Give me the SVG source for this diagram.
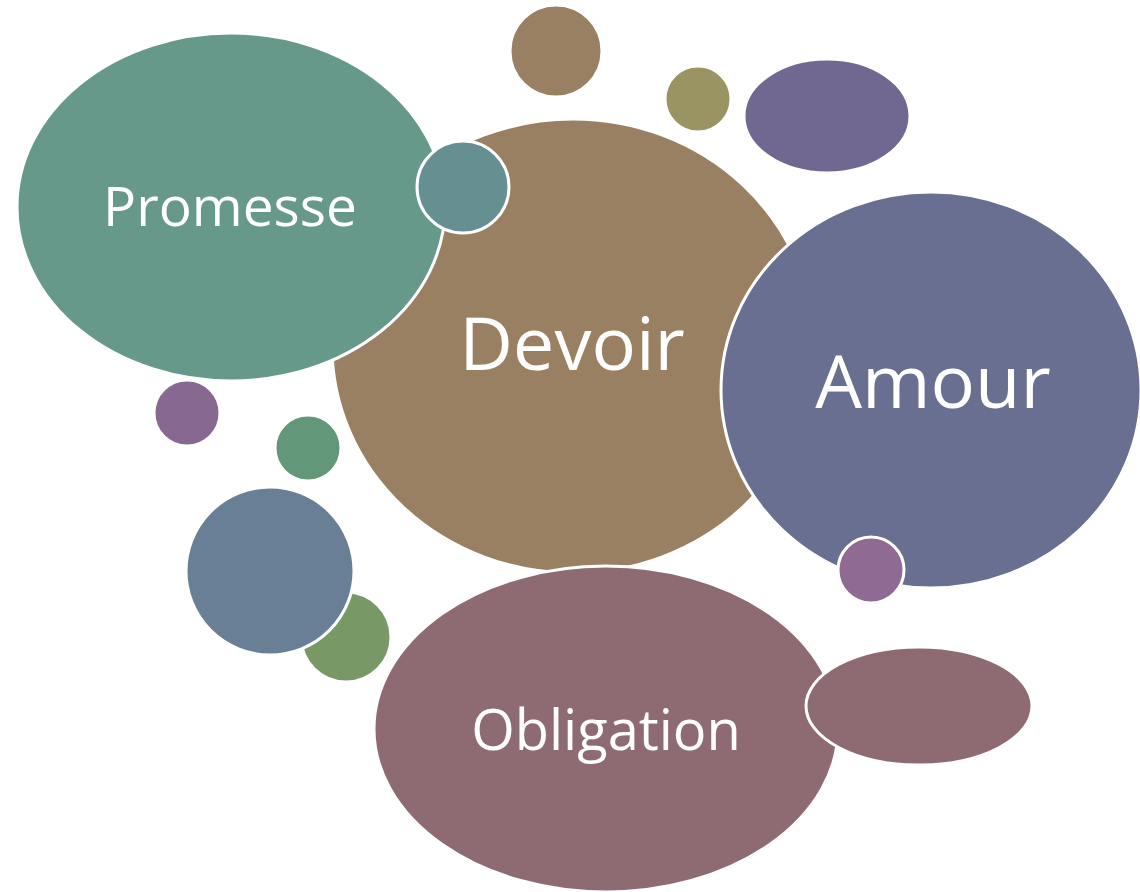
<svg xmlns="http://www.w3.org/2000/svg" width="1140" height="892" viewBox="0 0 1140 892">
<style>
.b{stroke:#fff;stroke-width:3}
.t{fill:#fff;font-family:"Open Sans","Noto Sans",sans-serif;text-anchor:middle}
</style>
<rect width="1140" height="892" fill="#fff"/>
<g id="bubble-top-brown"><circle class="b" cx="556" cy="51" r="46" fill="#9A8062"/></g>
<g id="bubble-olive"><circle class="b" cx="698" cy="99" r="33" fill="#9A9462"/></g>
<g id="bubble-purple-top"><ellipse class="b" cx="827" cy="116" rx="83" ry="57" fill="#706890"/></g>
<g id="devoir"><ellipse class="b" cx="573" cy="346" rx="241" ry="227" fill="#9A8062"/><text class="t" x="572" y="370" font-size="74">Devoir</text></g>
<g id="promesse"><ellipse class="b" cx="231" cy="207" rx="214" ry="174" fill="#66998A"/><text class="t" x="230" y="226" font-size="55">Promesse</text></g>
<g id="bubble-teal"><circle class="b" cx="463" cy="187" r="46" fill="#668F92"/></g>
<g id="amour"><ellipse class="b" cx="931" cy="390" rx="210" ry="198" fill="#686F90"/><text class="t" x="933" y="408" font-size="74">Amour</text></g>
<g id="bubble-mauve"><circle class="b" cx="871" cy="570" r="33" fill="#8F6A92"/></g>
<g id="bubble-purple-left"><circle class="b" cx="187" cy="413" r="33" fill="#876891"/></g>
<g id="bubble-green-small"><circle class="b" cx="308" cy="448" r="33" fill="#63977A"/></g>
<g id="bubble-green"><circle class="b" cx="346" cy="637" r="45" fill="#789866"/></g>
<g id="bubble-blue"><circle class="b" cx="270" cy="571" r="84" fill="#687F95"/></g>
<g id="obligation"><ellipse class="b" cx="606" cy="729" rx="232" ry="163" fill="#8E6A72"/><text class="t" x="606" y="750" font-size="56">Obligation</text></g>
<g id="bubble-rose"><ellipse class="b" cx="919" cy="706" rx="113" ry="59" fill="#8E6A72"/></g>
<g id="connectors"></g>
</svg>
